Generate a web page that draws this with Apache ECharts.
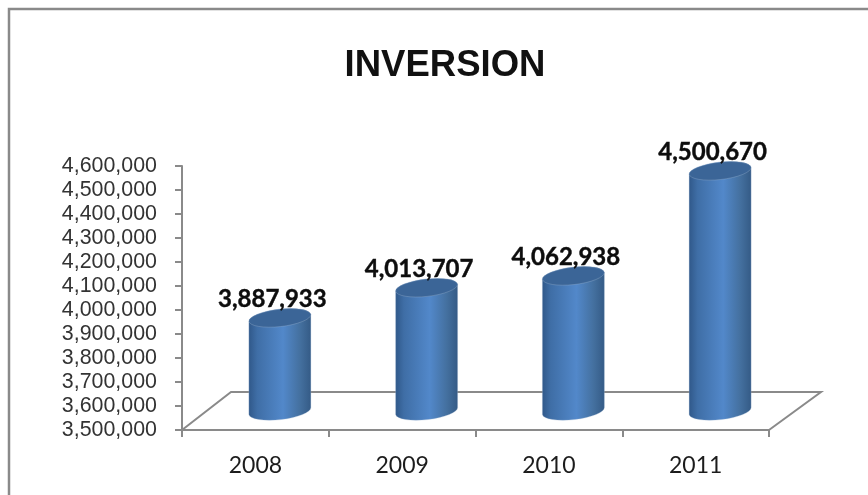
<!DOCTYPE html>
<html><head><meta charset="utf-8">
<style>html,body{margin:0;padding:0;background:#fff}#c{width:868px;height:495px}</style>
<script src="https://cdn.jsdelivr.net/npm/echarts@6/dist/echarts.min.js"></script>
</head><body><div id="c"></div>
<script>
const categories = ['2008', '2009', '2010', '2011'];
const inversion = [3887933, 4013707, 4062938, 4500670];
const yMin = 3500000, yMax = 4600000, yStep = 100000;
const titleText = 'INVERSION';

const GRAY = '#8a8a8a';
const DEPTH_X = 49, DEPTH_Y = 38;      // floor depth of the 3D look
const BAR_RATIO = 0.4225, RY = 8.8, TILT = 3.5; // cylinder proportions

const chart = echarts.init(document.getElementById('c'), null, {renderer: 'canvas'});

function sideGrad(a, b, c) {
  return new echarts.graphic.LinearGradient(0, 0, 1, 0, [
    {offset: 0, color: a}, {offset: 0.14, color: '#3f6ea6'},
    {offset: 0.55, color: b}, {offset: 0.82, color: '#44709f'}, {offset: 1, color: c}
  ]);
}

function renderBar(params, api) {
  const val = api.value(1);
  const base = api.coord([api.value(0), yMin]);
  const top = api.coord([api.value(0), val]);
  const w = api.size([1, 0])[0] * BAR_RATIO, rx = w / 2;
  const cx = base[0] + DEPTH_X / 2;
  const by = base[1] - DEPTH_Y / 2, ty = top[1] - DEPTH_Y / 2;
  const rot = -Math.atan2(TILT, rx) * 180 / Math.PI;
  const arc = `A ${rx + 0.2} ${RY} ${rot} 0`;
  const body = `M ${cx - rx} ${ty + TILT} L ${cx - rx} ${by + TILT} ${arc} 0 ${cx + rx} ${by - TILT} L ${cx + rx} ${ty - TILT} ${arc} 0 ${cx - rx} ${ty + TILT} Z`;
  const cap = `M ${cx - rx} ${ty + TILT} ${arc} 1 ${cx + rx} ${ty - TILT} ${arc} 1 ${cx - rx} ${ty + TILT} Z`;
  return {type: 'group', children: [
    {type: 'path', shape: {pathData: body},
      style: {fill: sideGrad('#2f5788', '#5288ca', '#345a85'), stroke: 'rgba(170,190,215,0.5)', lineWidth: 0.6}},
    {type: 'path', shape: {pathData: cap},
      style: {fill: '#3b6597', stroke: 'rgba(170,190,215,0.5)', lineWidth: 0.6}},
    {type: 'text', x: cx - 7.5, y: ty - 18.5, style: {
      text: echarts.format.addCommas(val), align: 'center', verticalAlign: 'middle',
      font: 'bold 24px Lato, "Noto Sans", sans-serif', fill: '#0d0d0d', stroke: '#0d0d0d', lineWidth: 0.4}}
  ]};
}

function renderFloor(params) {
  const g = params.coordSys;
  const x0 = g.x, x1 = g.x + g.width, y = g.y + g.height;
  const pts = [[x0, y], [x0 + DEPTH_X, y - DEPTH_Y], [x1 + 52, y - DEPTH_Y], [x1, y]];
  return {type: 'polyline', shape: {points: pts}, style: {fill: 'none', stroke: GRAY, lineWidth: 2}};
}

chart.setOption({
  animation: false,
  backgroundColor: '#fff',
  title: {text: titleText, left: 440, top: 42, textAlign: 'center',
    textStyle: {fontFamily: '"Liberation Sans", Arial, sans-serif', fontWeight: 'bold', fontSize: 36.5, color: '#111'}},
  grid: {left: 182, top: 166, width: 587, height: 264, containLabel: false},
  xAxis: {type: 'category', data: categories,
    axisLine: {lineStyle: {color: GRAY, width: 2}},
    axisTick: {show: true, alignWithLabel: false, length: 7, lineStyle: {color: GRAY, width: 2}},
    axisLabel: {margin: 24, fontFamily: 'Lato, sans-serif', fontSize: 23, color: '#1c1c1c'}},
  yAxis: {type: 'value', min: yMin, max: yMax, interval: yStep,
    axisLine: {show: true, lineStyle: {color: GRAY, width: 2}},
    axisTick: {show: true, length: 7, lineStyle: {color: GRAY, width: 2}},
    splitLine: {show: false},
    axisLabel: {margin: 25, fontFamily: '"Liberation Sans", Arial, sans-serif', fontSize: 21.4, color: '#333',
      formatter: v => echarts.format.addCommas(v)}},
  graphic: [{type: 'rect', z: -1, shape: {x: 9, y: 9, width: 900, height: 520},
    style: {fill: 'none', stroke: GRAY, lineWidth: 2.5}}],
  series: [
    {type: 'custom', name: 'floor', z: 1, clip: false, silent: true, renderItem: renderFloor,
      data: [[0, yMin]], encode: {x: 0, y: 1}},
    {type: 'custom', name: 'INVERSION', z: 2, clip: false, renderItem: renderBar,
      data: inversion.map((v, i) => [i, v]), encode: {x: 0, y: 1}}
  ]
});
</script></body></html>
